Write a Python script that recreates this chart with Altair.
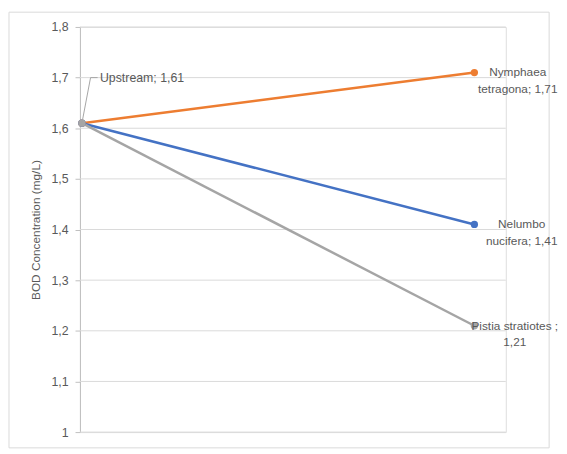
import altair as alt
import pandas as pd

series = ["Nymphaea tetragona", "Nelumbo nucifera", "Pistia stratiotes"]
upstream = 1.61
end_values = [1.71, 1.41, 1.21]
colors = ["#ED7D31", "#4472C4", "#A5A5A5"]
end_labels = [["Nymphaea", "tetragona; 1,71"], ["Nelumbo", "nucifera; 1,41"], ["Pistia stratiotes ;", "1,21"]]
label_dx = [44, 48, 41]
y_ticks = [1.0, 1.1, 1.2, 1.3, 1.4, 1.5, 1.6, 1.7, 1.8]

rows = []
for s, v in zip(series, end_values):
    rows.append({"series": s, "x": 0, "y": upstream})
    rows.append({"series": s, "x": 1, "y": v})
df = pd.DataFrame(rows)

lab = pd.DataFrame({"series": series, "x": [1] * 3, "y": end_values,
                    "label": end_labels, "dx": label_dx})

leader = pd.DataFrame({"x": [0, 0.022, 0.04], "y": [upstream, 1.70, 1.70], "o": [0, 1, 2]})
up_lab = pd.DataFrame({"x": [0.046], "y": [1.70], "label": ["Upstream; 1,61"]})

xs = alt.Scale(domain=[-0.005, 1.08])
ys = alt.Scale(domain=[1.0, 1.8])
col = alt.Scale(domain=series, range=colors)
FONT = "Liberation Sans"
TXT = "#595959"

frame = alt.Chart(pd.DataFrame({"a": [0]})).mark_rect(
    fill=None, stroke="#D9D9D9", strokeWidth=1
).encode(x=alt.value(-72), x2=alt.value(476), y=alt.value(-15), y2=alt.value(427))

grid = alt.Chart(pd.DataFrame({"y": y_ticks})).mark_rule(color="#D9D9D9", strokeWidth=1).encode(
    y=alt.Y("y:Q", scale=ys, axis=alt.Axis(
        title="BOD Concentration (mg/L)", values=y_ticks, grid=False,
        labelExpr="datum.value == 1 ? '1' : replace(format(datum.value, '.1f'), '.', ',')",
        domainColor="#BFBFBF", tickColor="#BFBFBF", tickSize=5, labelPadding=7,
        titlePadding=9, labelFontSize=12.5, titleFontSize=12, titleFontWeight="normal",
        labelColor=TXT, titleColor=TXT, labelFont=FONT, titleFont=FONT)),
    x=alt.value(0), x2=alt.value(432),
)

lines = alt.Chart(df).mark_line(strokeWidth=2.5).encode(
    x=alt.X("x:Q", scale=xs, axis=None),
    y=alt.Y("y:Q", scale=ys),
    color=alt.Color("series:N", scale=col, legend=None),
    detail="series:N",
)
pts = alt.Chart(df).mark_circle(size=55, opacity=1).encode(
    x=alt.X("x:Q", scale=xs), y=alt.Y("y:Q", scale=ys),
    color=alt.Color("series:N", scale=col, legend=None),
)
lead = alt.Chart(leader).mark_line(color="#A5A5A5", strokeWidth=1).encode(
    x=alt.X("x:Q", scale=xs), y=alt.Y("y:Q", scale=ys), order="o:Q")
uptext = alt.Chart(up_lab).mark_text(align="left", baseline="middle", font=FONT, fontSize=12.5, color=TXT).encode(
    x=alt.X("x:Q", scale=xs), y=alt.Y("y:Q", scale=ys), text="label:N")

texts = []
for i in range(3):
    t = alt.Chart(lab.iloc[[i]]).mark_text(align="center", baseline="middle", font=FONT, fontSize=12,
                                          color=TXT, dx=label_dx[i], lineHeight=17).encode(
        x=alt.X("x:Q", scale=xs), y=alt.Y("y:Q", scale=ys), text="label")
    texts.append(t)

chart = alt.layer(frame, grid, lines, pts, lead, uptext, *texts).properties(
    width=432, height=411,
    autosize=alt.AutoSizeParams(type="none"),
    padding={"left": 73, "top": 16, "right": 54, "bottom": 20},
).configure_view(stroke=None).configure(background="white")

chart.save("out.html", embed_options={"renderer": "svg", "actions": False})
